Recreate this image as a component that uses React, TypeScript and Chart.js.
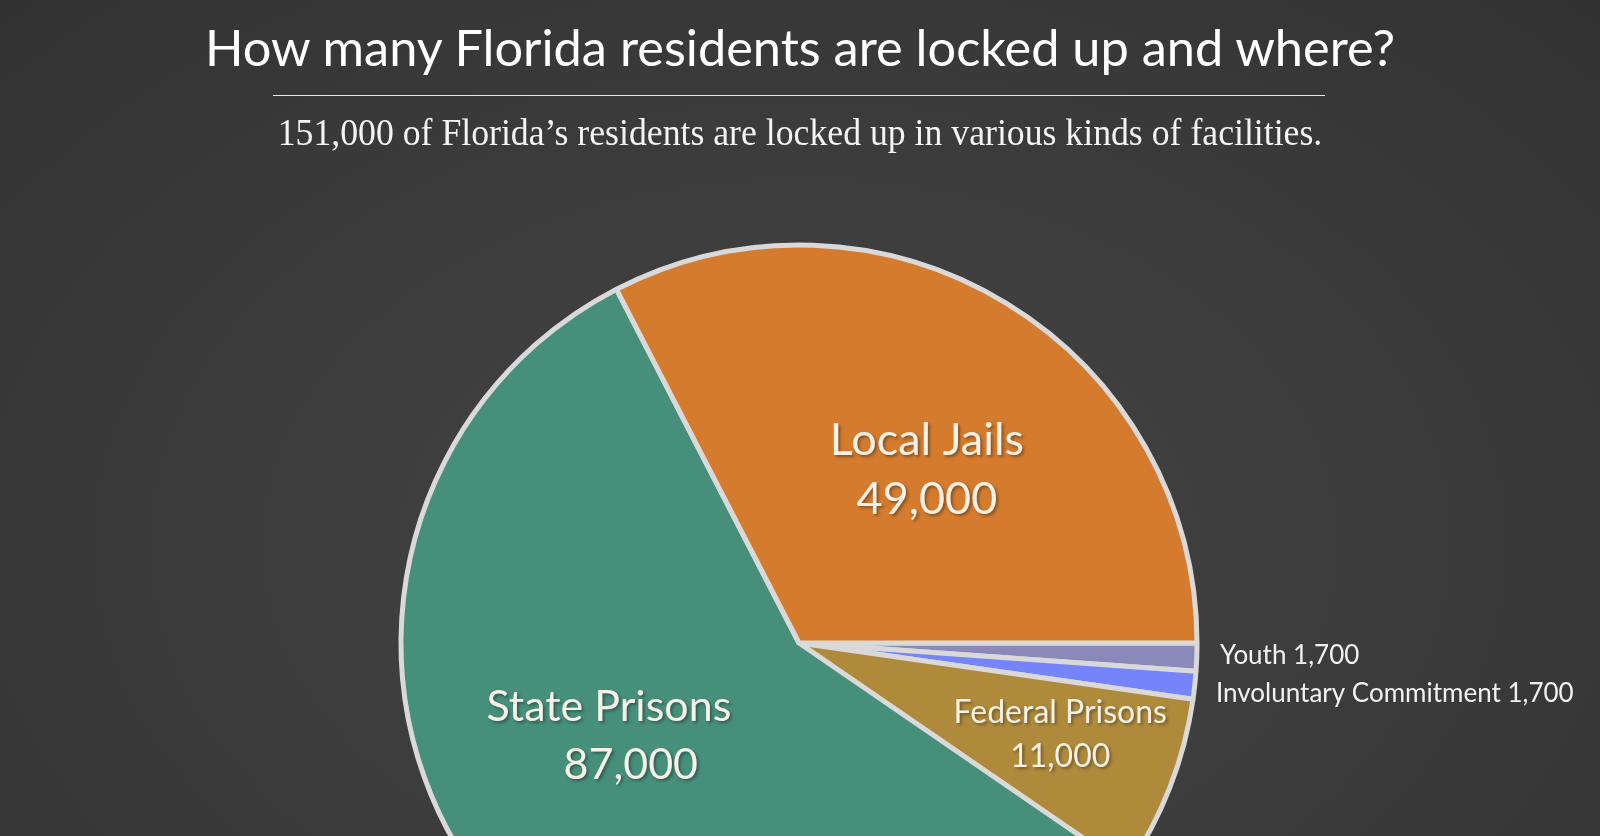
import React, { useEffect, useRef } from "react";
import { Chart, registerables } from "chart.js";

Chart.register(...registerables);

const titleText = "How many Florida residents are locked up and where?";
const subtitleText = "151,000 of Florida\u2019s residents are locked up in various kinds of facilities.";

const categories = ["Youth", "Involuntary Commitment", "Federal Prisons", "State Prisons", "Local Jails"];
const values = [1700, 1700, 11000, 87000, 49000];

const sliceColors = ["#8a89b9", "#7584fb", "#b08a3b", "#468f7b", "#d47b2e"];

type InnerLabel = { index: number; angle: number; dist: number; size: number; gap: number; dx: number[] };
const innerLabels: InnerLabel[] = [
  { index: 4, angle: -53.5, dist: 215, size: 45, gap: 59, dx: [0, 0] },
  { index: 3, angle: 152.5, dist: 202, size: 43, gap: 58, dx: [-11, 11] },
  { index: 2, angle: 19.4, dist: 277, size: 32, gap: 44, dx: [0, 0] },
];
type OuterLabel = { index: number; dx: number; dy: number };
const outerLabels: OuterLabel[] = [
  { index: 0, dx: 23, dy: -2 },
  { index: 1, dx: 19, dy: 8 },
];

const fmt = (v: number) => v.toLocaleString("en-US");

const labelPlugin = {
  id: "sliceLabels",
  afterDatasetsDraw(chart: any) {
    const ctx = chart.ctx as CanvasRenderingContext2D;
    const meta = chart.getDatasetMeta(0);
    ctx.save();
    innerLabels.forEach((l) => {
      const arc = meta.data[l.index] as any;
      const a = (l.angle * Math.PI) / 180;
      const cx = arc.x + l.dist * Math.cos(a);
      const cy = arc.y + l.dist * Math.sin(a);
      const lines = [categories[l.index], fmt(values[l.index])];
      ctx.font = `${l.size}px Lato, "Noto Sans", sans-serif`;
      ctx.textAlign = "center";
      ctx.textBaseline = "middle";
      ctx.shadowColor = "rgba(0,0,0,0.35)";
      ctx.shadowOffsetX = 2;
      ctx.shadowOffsetY = 2;
      ctx.shadowBlur = 3;
      ctx.fillStyle = "#f8f1e8";
      lines.forEach((t, i) => {
        ctx.fillText(t, cx + l.dx[i], cy + (i - 0.5) * l.gap);
      });
    });
    ctx.shadowColor = "transparent";
    outerLabels.forEach((l) => {
      const arc = meta.data[l.index] as any;
      const mid = (arc.startAngle + arc.endAngle) / 2;
      const x = arc.x + arc.outerRadius + l.dx;
      const y = arc.y + arc.outerRadius * Math.sin(mid) + l.dy;
      ctx.font = `26px Lato, "Noto Sans", sans-serif`;
      ctx.textAlign = "left";
      ctx.textBaseline = "middle";
      ctx.fillStyle = "#f2f2f2";
      ctx.fillText(`${categories[l.index]} ${fmt(values[l.index])}`, x, y);
    });
    ctx.restore();
  },
};

export default function App() {
  const ref = useRef<HTMLCanvasElement | null>(null);
  useEffect(() => {
    document.body.style.margin = "0";
    document.body.style.overflow = "hidden";
    const chart = new Chart(ref.current as HTMLCanvasElement, {
      type: "pie",
      data: {
        labels: categories,
        datasets: [
          {
            data: values,
            backgroundColor: sliceColors,
            borderColor: "#d9d9d9",
            borderWidth: 5,
          },
        ],
      },
      options: {
        animation: false,
        responsive: false,
        rotation: 90,
        radius: 398,
        layout: { padding: { left: 0, right: 2, top: 0, bottom: 0 } },
        plugins: { legend: { display: false }, tooltip: { enabled: false }, title: { display: false } },
      },
      plugins: [labelPlugin],
    });
    return () => chart.destroy();
  }, []);

  return (
    <div
      style={{
        position: "fixed",
        left: 0,
        top: 0,
        width: 1600,
        height: 836,
        overflow: "hidden",
        background: "radial-gradient(ellipse at 50% 65%, #444444 0%, #3d3d3d 45%, #323232 100%)",
      }}
    >
      <canvas
        ref={ref}
        width={1600}
        height={1286}
        style={{ position: "absolute", left: 0, top: 0, width: 1600, height: 1286 }}
      />
      <div
        style={{
          position: "absolute",
          left: 0,
          width: 1600,
          top: 15,
          textAlign: "center",
          color: "#ffffff",
          fontFamily: 'Lato, "Noto Sans", sans-serif',
          fontSize: 50.5,
          lineHeight: "64px",
          paddingRight: 2,
        }}
      >
        {titleText}
      </div>
      <div
        style={{
          position: "absolute",
          left: 273,
          width: 1052,
          top: 95,
          height: 1,
          background: "#e6e6e6",
        }}
      />
      <div
        style={{
          position: "absolute",
          left: 0,
          width: 1600,
          top: 111,
          textAlign: "center",
          color: "#f4f4f4",
          fontFamily: '"Liberation Serif", "DejaVu Serif", serif',
          fontSize: 38,
          lineHeight: "42px",
          whiteSpace: "nowrap",
          transform: "scaleX(0.94)",
        }}
      >
        {subtitleText}
      </div>
    </div>
  );
}
